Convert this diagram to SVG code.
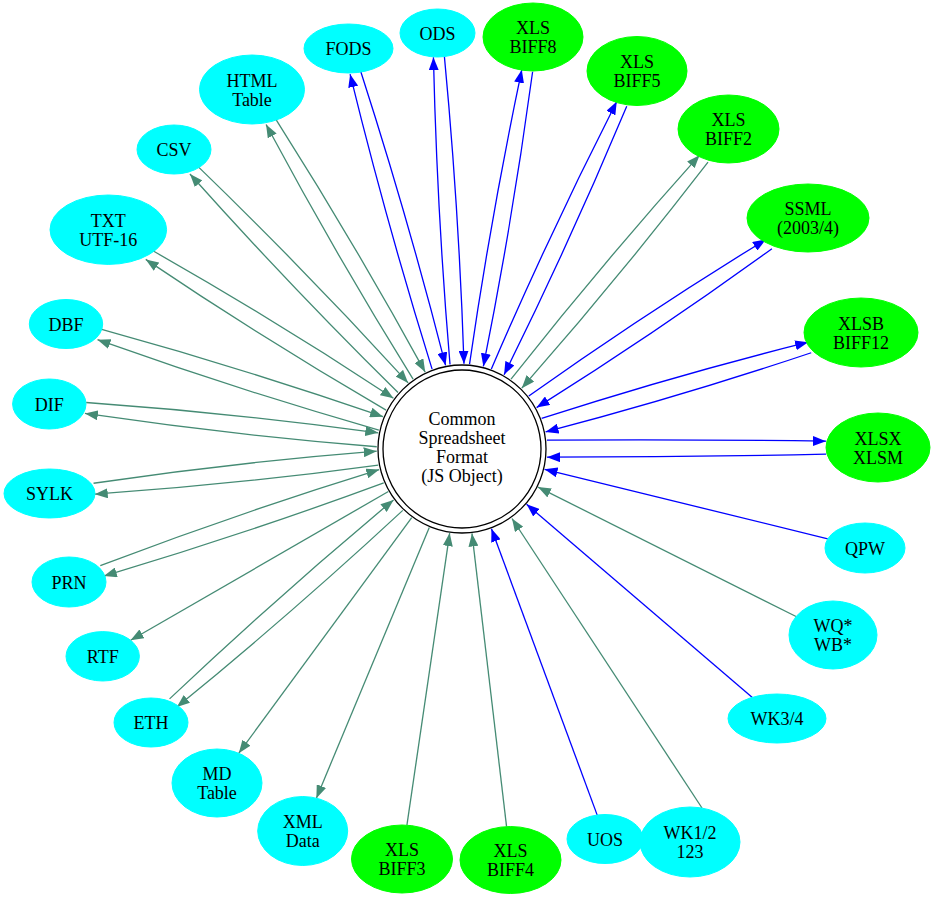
<svg xmlns="http://www.w3.org/2000/svg" width="935" height="900" viewBox="0 0 935 900">
<style>
text{font-family:"Liberation Serif","Times New Roman",serif;font-size:18px;text-anchor:middle;fill:#000}
.c{fill:#00FFFF;stroke:#00FFFF}
.g{fill:#00FF00;stroke:#00FF00}
.eb{fill:none;stroke:#0000FF;stroke-width:1.3;marker-end:url(#ab)}
.eg{fill:none;stroke:#458B74;stroke-width:1.3;marker-end:url(#ag)}
</style>
<defs>
<marker id="ab" markerUnits="userSpaceOnUse" viewBox="0 0 13 10" markerWidth="13" markerHeight="10" refX="13" refY="5" orient="auto"><path d="M0,0 L13,5 L0,10 z" fill="#0000FF"/></marker>
<marker id="ag" markerUnits="userSpaceOnUse" viewBox="0 0 13 10" markerWidth="13" markerHeight="10" refX="13" refY="5" orient="auto"><path d="M0,0 L13,5 L0,10 z" fill="#458B74"/></marker>
</defs>
<rect width="935" height="900" fill="#fff"/>
<g id="edges">
<g transform="translate(462 449) rotate(-105.82)"><path class="eb" d="M85,-7 Q238,-11 391.1,-5.5"/><path class="eb" d="M391.1,5.5 Q238,11 85,7"/></g>
<g transform="translate(462 449) rotate(-93.37)"><path class="eb" d="M85,-7 Q239,-11 392.7,-5.5"/><path class="eb" d="M392.7,5.5 Q239,11 85,7"/></g>
<g transform="translate(462 449) rotate(-80.22)"><path class="eb" d="M85,-7 Q234,-11 383.8,-5.5"/><path class="eb" d="M383.8,5.5 Q234,11 85,7"/></g>
<g transform="translate(462 449) rotate(-65.16)"><path class="eb" d="M85,-7 Q233,-11 380.3,-5.5"/><path class="eb" d="M380.3,5.5 Q233,11 85,7"/></g>
<g transform="translate(462 449) rotate(-50.21)"><path class="eg" d="M85,-7 Q231,-11 377.8,-5.5"/><path class="eg" d="M377.8,5.5 Q231,11 85,7"/></g>
<g transform="translate(462 449) rotate(-33.73)"><path class="eb" d="M85,-7 Q227,-11 369,-5.5"/><path class="eb" d="M369,5.5 Q227,11 85,7"/></g>
<g transform="translate(462 449) rotate(-16.28)"><path class="eb" d="M85,-7 Q224,-11 362.2,-5.5"/><path class="eb" d="M362.2,5.5 Q224,11 85,7"/></g>
<g transform="translate(462 449) rotate(-0.21)"><path class="eb" d="M85,-8.5 Q224,-9 364,-6.5"/><path class="eb" d="M364,6.5 Q224,9 85,8.5"/></g>
<g transform="translate(462 449) rotate(-120.29)"><path class="eg" d="M85,-7 Q232,-11 379,-5.5"/><path class="eg" d="M379,5.5 Q232,11 85,7"/></g>
<g transform="translate(462 449) rotate(-133.88)"><path class="eg" d="M85,-7 Q236,-11 386.8,-5.5"/><path class="eg" d="M386.8,5.5 Q236,11 85,7"/></g>
<g transform="translate(462 449) rotate(-148.2)"><path class="eg" d="M85,-7 Q227,-11 368.7,-5.5"/><path class="eg" d="M368.7,5.5 Q227,11 85,7"/></g>
<g transform="translate(462 449) rotate(-162.48)"><path class="eg" d="M85,-7 Q233,-11 380.5,-5.5"/><path class="eg" d="M380.5,5.5 Q233,11 85,7"/></g>
<g transform="translate(462 449) rotate(-173.78)"><path class="eg" d="M85,-7 Q232,-11 378.7,-5.5"/><path class="eg" d="M378.7,5.5 Q232,11 85,7"/></g>
<g transform="translate(462 449) rotate(173.84)"><path class="eg" d="M85,-7 Q228,-11 370,-5.5"/><path class="eg" d="M370,5.5 Q228,11 85,7"/></g>
<g transform="translate(462 449) rotate(161.3)"><path class="eg" d="M85,-7 Q232,-11 380,-5.5"/><path class="eg" d="M380,5.5 Q232,11 85,7"/></g>
<g transform="translate(462 449) rotate(138.67)"><path class="eg" d="M85,-7 Q235,-11 384.6,-5.5"/><path class="eg" d="M384.6,5.5 Q235,11 85,7"/></g>
<g transform="translate(462 449) rotate(13.8)"><path class="eb" d="M376.7,0 L85,0"/></g>
<g transform="translate(462 449) rotate(26.63)"><path class="eg" d="M373.7,0 L85,0"/></g>
<g transform="translate(462 449) rotate(40.55)"><path class="eb" d="M382.1,0 L85,0"/></g>
<path class="eg" d="M702,808 L512,518.5"/>
<g transform="translate(462 449) rotate(69.73)"><path class="eb" d="M390.3,0 L85,0"/></g>
<g transform="translate(462 449) rotate(83.27)"><path class="eg" d="M380.3,0 L85,0"/></g>
<g transform="translate(462 449) rotate(98.33)"><path class="eg" d="M380.2,0 L85,0"/></g>
<g transform="translate(462 449) rotate(112.64)"><path class="eg" d="M85,0 L378.3,0"/></g>
<g transform="translate(462 449) rotate(126.27)"><path class="eg" d="M85,0 L377.3,0"/></g>
<g transform="translate(462 449) rotate(150.01)"><path class="eg" d="M85,0 L382.6,0"/></g>
</g>
<g id="csf">
<circle cx="462" cy="449" r="84" fill="#fff" stroke="#000" stroke-width="1.3"/>
<circle cx="462" cy="449" r="79" fill="none" stroke="#000" stroke-width="1.3"/>
<text x="462" y="425">Common</text><text x="462" y="444">Spreadsheet</text><text x="462" y="463">Format</text><text x="462" y="482">(JS Object)</text>
</g>
<g id="fods"><ellipse class="c" cx="348.5" cy="48.5" rx="44.5" ry="24.5"/><text x="348.5" y="55">FODS</text></g>
<g id="ods"><ellipse class="c" cx="437.5" cy="33" rx="37.5" ry="24"/><text x="437.5" y="39.5">ODS</text></g>
<g id="biff8"><ellipse class="g" cx="533" cy="37" rx="50" ry="34"/><text x="533" y="34">XLS</text><text x="533" y="53">BIFF8</text></g>
<g id="biff5"><ellipse class="g" cx="637" cy="71" rx="50" ry="34.5"/><text x="637" y="68">XLS</text><text x="637" y="87">BIFF5</text></g>
<g id="biff2"><ellipse class="g" cx="728.5" cy="129" rx="50.5" ry="34"/><text x="728.5" y="126">XLS</text><text x="728.5" y="145">BIFF2</text></g>
<g id="ssml"><ellipse class="g" cx="808" cy="218" rx="61" ry="34"/><text x="808" y="215">SSML</text><text x="808" y="234">(2003/4)</text></g>
<g id="xlsb"><ellipse class="g" cx="861" cy="332.5" rx="57" ry="34.5"/><text x="861" y="329.5">XLSB</text><text x="861" y="348.5">BIFF12</text></g>
<g id="xlsx"><ellipse class="g" cx="878" cy="447.5" rx="52" ry="34.5"/><text x="878" y="444.5">XLSX</text><text x="878" y="463.5">XLSM</text></g>
<g id="qpw"><ellipse class="c" cx="865" cy="548" rx="40" ry="25"/><text x="865" y="554.5">QPW</text></g>
<g id="wq"><ellipse class="c" cx="833" cy="635" rx="44" ry="34"/><text x="833" y="632">WQ*</text><text x="833" y="651">WB*</text></g>
<g id="wk34"><ellipse class="c" cx="777" cy="718.5" rx="49" ry="24.5"/><text x="777" y="725">WK3/4</text></g>
<g id="wk12"><ellipse class="c" cx="690" cy="842" rx="50" ry="35"/><text x="690" y="839">WK1/2</text><text x="690" y="858">123</text></g>
<g id="uos"><ellipse class="c" cx="605" cy="839" rx="38" ry="24.5"/><text x="605" y="845.5">UOS</text></g>
<g id="biff4"><ellipse class="g" cx="510.5" cy="860" rx="50.5" ry="33.5"/><text x="510.5" y="857">XLS</text><text x="510.5" y="876">BIFF4</text></g>
<g id="biff3"><ellipse class="g" cx="402" cy="859" rx="50.5" ry="34"/><text x="402" y="856">XLS</text><text x="402" y="875">BIFF3</text></g>
<g id="xml"><ellipse class="c" cx="302.7" cy="831" rx="45" ry="34.5"/><text x="302.7" y="828">XML</text><text x="302.7" y="847">Data</text></g>
<g id="md"><ellipse class="c" cx="217" cy="783" rx="45" ry="34"/><text x="217" y="780">MD</text><text x="217" y="799">Table</text></g>
<g id="eth"><ellipse class="c" cx="151" cy="722.5" rx="37" ry="24.5"/><text x="151" y="729">ETH</text></g>
<g id="rtf"><ellipse class="c" cx="102.7" cy="656.3" rx="36.7" ry="24.7"/><text x="102.7" y="662.8">RTF</text></g>
<g id="prn"><ellipse class="c" cx="69" cy="582" rx="37" ry="25"/><text x="69" y="588.5">PRN</text></g>
<g id="sylk"><ellipse class="c" cx="49.5" cy="493.5" rx="45.5" ry="24.5"/><text x="49.5" y="500">SYLK</text></g>
<g id="dif"><ellipse class="c" cx="49.3" cy="404" rx="36.7" ry="25"/><text x="49.3" y="410.5">DIF</text></g>
<g id="dbf"><ellipse class="c" cx="66" cy="324" rx="36.7" ry="24.5"/><text x="66" y="330.5">DBF</text></g>
<g id="txt"><ellipse class="c" cx="108.3" cy="229.7" rx="58.3" ry="34.7"/><text x="108.3" y="226.7">TXT</text><text x="108.3" y="245.7">UTF-16</text></g>
<g id="csv"><ellipse class="c" cx="174" cy="149.5" rx="37" ry="24.5"/><text x="174" y="156">CSV</text></g>
<g id="html"><ellipse class="c" cx="252" cy="89.5" rx="52.5" ry="34.5"/><text x="252" y="86.5">HTML</text><text x="252" y="105.5">Table</text></g>
</svg>
